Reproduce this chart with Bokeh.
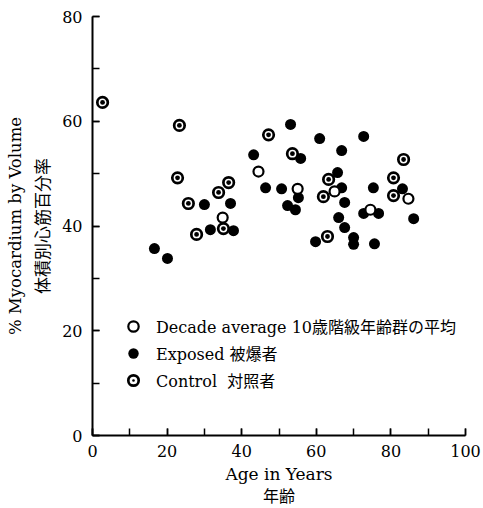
from bokeh.plotting import figure
from bokeh.models import (Range1d, SingleIntervalTicker, FixedTicker, LinearAxis,
                          Legend, LegendItem)
from bokeh.embed import file_html
from bokeh.resources import INLINE

# ---- data ----
exposed_age = [16.6, 20.1, 30.0, 31.6, 37.0, 37.8, 43.2, 46.4, 50.7, 53.1, 55.8, 55.2,
               52.3, 54.4, 60.9, 66.8, 72.7, 65.7, 66.8, 67.6, 66.0, 67.6, 70.0, 70.0,
               59.8, 75.6, 75.3, 72.7, 76.7, 83.1, 86.1]
exposed_pct = [35.7, 33.8, 44.1, 39.3, 44.3, 39.1, 53.6, 47.3, 47.1, 59.4, 52.9, 45.4,
               43.9, 43.1, 56.7, 54.4, 57.1, 50.2, 47.3, 44.5, 41.6, 39.7, 37.8, 36.5,
               37.0, 36.6, 47.3, 42.4, 42.4, 47.1, 41.4]

control_age = [2.7, 23.3, 22.8, 25.7, 27.9, 33.8, 36.5, 35.1, 47.2, 53.6, 63.3, 61.9,
               63.0, 80.7, 80.7, 83.4]
control_pct = [63.6, 59.2, 49.2, 44.3, 38.4, 46.4, 48.3, 39.5, 57.4, 53.8, 48.9, 45.6,
               38.0, 49.2, 45.8, 52.7]

decade_age = [34.9, 44.5, 55.0, 64.9, 74.5, 84.7]
decade_pct = [41.6, 50.4, 47.1, 46.6, 43.1, 45.2]

legend_labels = ["Decade average 10歳階級年齢群の平均", "Exposed 被爆者", "Control  対照者"]
y_title = "% Myocardium by Volume"
y_title_jp = "体積別心筋百分率"
x_title = "Age in Years"
x_title_jp = "年齢"

SERIF = "DejaVu Serif, Noto Sans CJK JP"

p = figure(width=483, height=508, output_backend="svg", toolbar_location=None,
           x_range=Range1d(0, 100), y_range=Range1d(0, 80),
           min_border_left=92, min_border_right=18, min_border_top=16, min_border_bottom=73)
p.outline_line_color = None
p.xgrid.visible = False
p.ygrid.visible = False
p.background_fill_color = "white"
p.border_fill_color = "white"

for ax in (p.xaxis[0], p.yaxis[0]):
    ax.ticker = SingleIntervalTicker(interval=20, num_minor_ticks=2)
    ax.axis_line_width = 2
    ax.axis_line_color = "black"
    ax.major_tick_in = 7
    ax.major_tick_out = 0
    ax.minor_tick_in = 7
    ax.minor_tick_out = 0
    ax.major_tick_line_width = 1.5
    ax.minor_tick_line_width = 1.5
    ax.major_tick_line_color = "black"
    ax.minor_tick_line_color = "black"
    ax.major_label_text_font = SERIF
    ax.major_label_text_font_size = "16px"
    ax.major_label_text_color = "black"
    ax.axis_label_text_font = SERIF
    ax.axis_label_text_font_style = "normal"
    ax.axis_label_text_color = "black"
p.yaxis[0].major_label_standoff = 10
p.xaxis[0].major_label_standoff = 9

# inner titles (Japanese on y, English on x)
p.yaxis[0].axis_label = y_title_jp
p.yaxis[0].axis_label_text_font_size = "17px"
p.yaxis[0].axis_label_standoff = 6
p.xaxis[0].axis_label = x_title
p.xaxis[0].axis_label_text_font_size = "17px"
p.xaxis[0].axis_label_standoff = 4

# outer titles as extra tick-less axes
def title_axis(label, size, standoff):
    return LinearAxis(ticker=FixedTicker(ticks=[]), axis_label=label,
                      axis_line_color=None, major_tick_line_color=None,
                      minor_tick_line_color=None, major_label_text_font_size="0px",
                      axis_label_text_font=SERIF, axis_label_text_font_style="normal",
                      axis_label_text_font_size=size, axis_label_text_color="black",
                      axis_label_standoff=standoff)

p.add_layout(title_axis(y_title, "16.5px", 6), "left")
p.add_layout(title_axis(x_title_jp, "16px", 0), "below")

r_exp = p.scatter(exposed_age, exposed_pct, size=11, marker="circle",
                  fill_color="black", line_color=None)
r_ctl = p.scatter(control_age, control_pct, size=10.5, marker="circle_dot",
                  fill_color="white", line_color="black", line_width=2.7)
p.scatter(control_age, control_pct, size=4.8, marker="circle",
          fill_color="black", line_color=None)
r_dec = p.scatter(decade_age, decade_pct, size=10, marker="circle",
                  fill_color="white", line_color="black", line_width=2.2)

legend = Legend(items=[LegendItem(label=legend_labels[0], renderers=[r_dec]),
                       LegendItem(label=legend_labels[1], renderers=[r_exp]),
                       LegendItem(label=legend_labels[2], renderers=[r_ctl])],
                location=(28, 42), orientation="vertical",
                glyph_width=26, glyph_height=26, spacing=1, padding=0, margin=0,
                label_standoff=10, label_text_font=SERIF, label_text_font_size="16px",
                label_text_color="black", border_line_color=None,
                background_fill_alpha=0)
p.add_layout(legend, "center")

open("out.html", "w").write(file_html(p, INLINE))
